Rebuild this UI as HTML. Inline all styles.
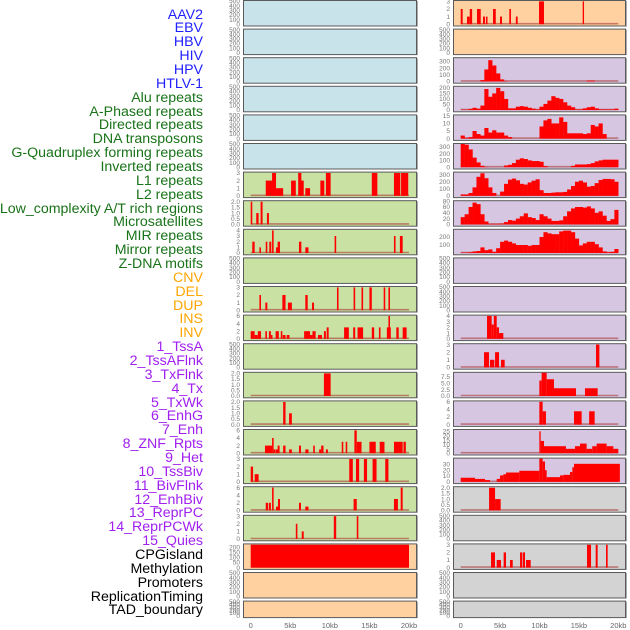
<!DOCTYPE html>
<html><head><meta charset="utf-8">
<style>
html,body{margin:0;padding:0;background:#fff;}
#wrap{position:relative;width:630px;height:630px;overflow:hidden;font-family:"Liberation Sans",sans-serif;}
.lbl{position:absolute;right:427px;font-size:14.2px;line-height:14px;white-space:nowrap;}
</style></head>
<body>
<div id="wrap">
<svg id="chart" width="630" height="630" style="position:absolute;left:0;top:0"></svg>
</div>
<script>
// ---- labels ----
const labelNames = ["AAV2","EBV","HBV","HIV","HPV","HTLV-1","Alu repeats","A-Phased repeats","Directed repeats","DNA transposons","G-Quadruplex forming repeats","Inverted repeats","L1 repeats","L2 repeats","Low_complexity A/T rich regions","Microsatellites","MIR repeats","Mirror repeats","Z-DNA motifs","CNV","DEL","DUP","INS","INV","1_TssA","2_TssAFlnk","3_TxFlnk","4_Tx","5_TxWk","6_EnhG","7_Enh","8_ZNF_Rpts","9_Het","10_TssBiv","11_BivFlnk","12_EnhBiv","13_ReprPC","14_ReprPCWk","15_Quies","CPGisland","Methylation","Promoters","ReplicationTiming","TAD_boundary"];
const labelColors = ["#1f1fff","#1f1fff","#1f1fff","#1f1fff","#1f1fff","#1f1fff","#197319","#197319","#197319","#197319","#197319","#197319","#197319","#197319","#197319","#197319","#197319","#197319","#197319","#ffa500","#ffa500","#ffa500","#ffa500","#ffa500","#a020f0","#a020f0","#a020f0","#a020f0","#a020f0","#a020f0","#a020f0","#a020f0","#a020f0","#a020f0","#a020f0","#a020f0","#a020f0","#a020f0","#a020f0","#000","#000","#000","#000","#000"];

// ---- x axis ----
const xTickValues = [0,5000,10000,15000,20000];
const xTickLabels = ["0","5kb","10kb","15kb","20kb"];

// ---- ticks ----
const ticksEmpty = [0,100,200,300,400,500];
const ticks3 = [0,1,2,3];
const ticks2f = [0,0.5,1,1.5,2];
const ticks4 = [0,1,2,3,4];
const ticks6 = [0,2,4,6];

// ---- left column segment data [startKb,endKb,value] ----
const leftL1 = [[1.9,2.9,2],[2.7,3.2,3],[3.2,4.1,1],[5.1,5.7,2],[6.0,6.4,3],[6.2,6.7,2],[6.9,7.5,1],[8.8,9.3,2],[9.5,10.1,3],[15.3,16.0,3],[18.1,18.9,3],[19.0,19.9,3]];
const leftLowComplexity = [[0,0.2,2],[0.7,1.0,1],[1.25,1.5,2],[2.05,2.3,1]];
const leftMIR = [[0.2,0.5,2],[1.1,1.3,1],[1.9,2.1,2],[2.35,2.6,2],[2.7,2.9,4],[3.2,3.5,1],[3.4,3.7,2],[6.1,6.4,2],[6.9,7.3,1],[10.6,10.8,3],[18.1,18.3,3],[18.85,19.2,3]];
const leftDEL = [[1.1,1.3,2],[1.85,2.1,1],[4.0,4.4,2],[4.7,5.2,1],[6.9,7.2,2],[7.75,8.0,1],[10.9,11.1,3],[13.0,13.2,3],[14.0,14.2,3],[15.0,15.3,3],[16.8,17.0,3],[17.4,17.6,3]];
const leftINS = [[0,0.5,2],[0.5,0.9,1],[0.9,1.3,2],[1.85,2.05,2],[2.3,2.55,2],[2.55,2.75,1],[3.15,3.55,2],[3.8,4.0,2],[4.05,4.4,1],[4.55,4.9,1],[6.75,7.5,2],[7.5,7.8,1],[7.8,8.2,2],[8.5,9.0,1],[9.25,9.5,2],[9.6,9.85,3],[11.8,12.4,3],[12.95,13.2,3],[13.5,14.2,3],[15.3,15.6,3],[16.2,16.4,3],[17.2,17.7,3],[17.4,17.6,6],[18.4,18.7,3],[19.2,19.7,3]];
const leftTxFlnk = [[9.25,10.1,2]];
const leftTxWk = [[4.1,4.4,2],[4.85,5.2,1]];
const leftEnh = [[1.8,2.7,2],[2.7,2.9,4],[2.9,3.1,1],[3.15,3.6,1],[3.4,3.65,2],[4.1,4.4,2],[4.85,5.2,1],[6.1,6.35,2],[6.9,7.3,1],[7.9,8.1,2],[8.65,8.9,1],[8.9,9.2,2],[9.5,9.75,1],[11.5,11.7,3],[12.0,12.2,3],[13.1,13.4,6],[13.4,14.0,3],[15.0,15.6,3],[15.5,15.8,3],[16.3,16.9,3],[18.1,19.2,3],[19.3,19.6,3]];
const leftHet = [[0,0.3,2],[0.5,0.8,1],[0.7,1.0,1],[12.45,12.9,3],[13.3,13.7,3],[14.3,14.7,3],[15.4,15.9,3],[17.0,17.4,3]];
const leftBivFlnk = [[1.9,2.2,2],[2.3,2.55,2],[2.7,2.9,6],[3.2,3.45,1],[3.45,3.7,3],[6.1,6.35,2],[6.9,7.3,1],[13.0,13.4,3],[18.1,18.6,3],[18.95,19.2,6]];
const leftReprPC = [[5.7,5.9,2],[6.45,6.7,1],[10.5,10.8,3],[13.4,13.6,3]];
const leftCPG = [[0,20,225]];

// ---- right column segment data ----
const rightAAV2 = [[0,0.25,2],[0.8,1.15,1],[1.15,1.45,2],[2.07,2.54,2],[2.83,3.08,1],[3.2,3.4,1],[4.1,4.45,2],[4.99,5.24,1],[6.17,6.38,2],[7.0,7.23,1],[9.94,10.57,3],[15.48,15.65,3]];
const rightINS = [[3.34,3.93,4],[3.93,4.2,2.5],[4.2,4.57,4],[4.57,4.86,2],[4.86,5.41,1]];
const rightTssA = [[2.96,3.59,2],[3.72,4.27,1],[4.36,4.86,2],[5.12,5.58,1],[17.17,17.6,3]];
const rightTxFlnk = [[9.98,10.27,6],[10.27,10.91,9],[10.91,11.84,6.5],[11.84,14.63,3],[15.77,17.38,3]];
const rightTxWk = [[9.98,10.4,6],[10.4,10.82,3.5],[14.38,15.35,3.5],[16.3,17.0,3.5]];
const rightEnh = [[9.98,10.15,25],[10.15,10.57,14],[10.57,13.36,8],[13.36,14.5,5],[14.5,15.14,8],[15.14,15.98,11],[15.98,16.7,5],[16.7,17.25,8],[17.25,18.52,11],[18.52,19.37,8],[19.37,20.0,5]];
const rightHet = [[0,1.82,7],[1.82,3.09,5],[3.09,3.72,3],[4.57,4.99,5],[4.99,5.41,11],[5.41,5.75,13],[5.75,7.44,16],[7.44,9.98,19],[9.98,10.4,40],[10.4,10.7,35],[10.7,10.91,20],[10.91,12.6,8],[12.6,13.02,11],[13.02,13.87,12],[13.87,14.17,17],[14.17,14.38,25],[14.38,20.2,31]];
const rightBivFlnk = [[3.6,4.36,2],[4.36,5.07,1]];
const rightCPG = [[3.85,4.35,2],[4.57,5.11,1],[5.45,5.75,2],[6.26,6.6,1],[7.53,7.78,2],[7.86,8.16,2],[8.29,8.88,1],[16.03,16.54,3],[17.13,17.38,3],[18.44,18.65,3]];

// ---- right column histogram data (0.5kb bins) ----
const rightHPV = [0,0,0,0,0,20,180,320,240,120,30,5,0,0,0,0,0,0,0,0,0,0,0,0,0,0,0,0,0,0,0,0,12,12,0,0,0,0,0,0];
const rightAlu = [3,3,10,20,12,40,190,120,150,200,170,100,15,15,30,35,30,20,12,5,30,55,85,125,110,100,70,40,25,5,5,15,25,30,15,5,5,5,5,12];
const rightDirected = [2,0.5,1,5,3,2,7,4,5.5,4,4,2,1,0,0,0,0,0,0,0,8,12,13,10,10,14,11,3.5,3.5,3.5,3.5,3,3.5,9,8,10,3,0,0,0];
const rightGQuad = [340,330,260,140,70,20,3,0,0,0,0,25,35,60,110,130,120,100,90,90,80,15,0,0,0,0,0,0,20,40,40,40,45,60,85,100,110,110,110,110];
const rightL1 = [20,20,40,120,270,320,250,120,40,0,60,170,230,245,220,170,160,190,215,235,80,40,40,45,50,50,55,90,140,200,215,190,130,140,180,225,240,240,235,200];
const rightLowComplexity = [25,35,60,75,70,35,10,2,2,2,3,8,15,13,20,28,38,25,22,15,35,28,20,12,12,14,28,45,55,60,60,58,62,55,40,45,30,12,18,50];
const rightMIR = [5,5,10,20,25,70,35,45,15,60,140,155,140,120,100,100,100,90,100,100,200,260,245,235,235,270,280,280,260,180,95,120,140,140,110,70,20,10,15,50];

const BLUE="#c9e3eb", ORANGE="#ffd1a0", GREEN="#c9e1a3", LAV="#d6c6e1", GRAY="#d3d3d3";

const leftPanels = [
 [BLUE,ticksEmpty,500,null,"seg","aav2-ebv"],[BLUE,ticksEmpty,500,null,"seg","ebv-hbv"],[BLUE,ticksEmpty,500,null,"seg","hiv-hpv"],
 [BLUE,ticksEmpty,500,null,"seg","htlv-alu"],[BLUE,ticksEmpty,500,null,"seg","aphased-directed"],[BLUE,ticksEmpty,500,null,"seg","dna-gquad"],
 [GREEN,ticks3,3.05,leftL1,"seg","l1"],[GREEN,ticks2f,2.05,leftLowComplexity,"seg","low-complexity"],[GREEN,ticks4,4.1,leftMIR,"seg","mir"],
 [GREEN,ticksEmpty,500,null,"seg","zdna"],[GREEN,ticks3,3.05,leftDEL,"seg","del"],[GREEN,ticks6,6.1,leftINS,"seg","ins"],
 [GREEN,ticksEmpty,500,null,"seg","tssa"],[GREEN,ticks2f,2.05,leftTxFlnk,"seg","txflnk"],[GREEN,ticks2f,2.05,leftTxWk,"seg","txwk"],
 [GREEN,ticks6,6.1,leftEnh,"seg","enh"],[GREEN,ticks3,3.05,leftHet,"seg","het"],[GREEN,ticks6,6.1,leftBivFlnk,"seg","bivflnk"],
 [GREEN,ticks3,3.05,leftReprPC,"seg","reprpc"],[ORANGE,[0,50,100,150,200],228,leftCPG,"seg","cpgisland"],
 [ORANGE,ticksEmpty,500,null,"seg","promoters"],[ORANGE,ticksEmpty,500,null,"seg","tad"]
];
const rightPanels = [
 [ORANGE,ticks3,3.05,rightAAV2,"seg","aav2"],[ORANGE,ticksEmpty,500,null,"seg","ebv-hbv"],[LAV,[0,100,200,300],350,rightHPV,"hist","hpv"],
 [LAV,[0,50,100,150,200],210,rightAlu,"hist","alu"],[LAV,[0,5,10,15],15.3,rightDirected,"hist","directed"],[LAV,[0,100,200,300],340,rightGQuad,"hist","gquad"],
 [LAV,[0,100,200,300],330,rightL1,"hist","l1"],[LAV,[0,20,40,60,80],80,rightLowComplexity,"hist","low-complexity"],[LAV,[100,200],290,rightMIR,"hist","mir"],
 [LAV,ticksEmpty,500,null,"seg","zdna"],[LAV,ticksEmpty,500,null,"seg","del"],[LAV,ticks4,4.05,rightINS,"seg","ins"],
 [LAV,ticks3,3.05,rightTssA,"seg","tssa"],[LAV,[0,2.5,5,7.5],9,rightTxFlnk,"seg","txflnk"],[LAV,ticks6,6.1,rightTxWk,"seg","txwk"],
 [LAV,[0,5,10,15,20,25],26.5,rightEnh,"seg","enh"],[LAV,[0,10,20,30],40,rightHet,"seg","het"],[GRAY,ticks2f,2.05,rightBivFlnk,"seg","bivflnk"],
 [GRAY,ticksEmpty,500,null,"seg","reprpc"],[GRAY,ticks3,3.05,rightCPG,"seg","cpgisland"],
 [GRAY,ticksEmpty,500,null,"seg","promoters"],[GRAY,ticksEmpty,500,null,"seg","tad"]
];

const svg = document.getElementById('chart');
const NS = "http://www.w3.org/2000/svg";
function mk(tag, attrs){const e=document.createElementNS(NS,tag);for(const k in attrs)e.setAttribute(k,attrs[k]);svg.appendChild(e);return e;}

const wrap = document.getElementById('wrap');
labelNames.forEach((t,i)=>{
  const d=document.createElement('div');
  d.className='lbl';
  d.style.top=(15+i*13.86-7.5)+'px';
  d.style.color=labelColors[i];
  d.textContent=t;
  
  
  wrap.appendChild(d);
});

function panelTop(i){return i*28.6;}
function panelH(i){return i===21?16.5:25.5;}

function drawColumn(panels, x0, x1, kb0px, kb20px, side){
  const xs = kb => kb0px + kb*(kb20px-kb0px)/20;
  panels.forEach((p,i)=>{
    const [bg,ticks,ymax,data,type,name]=p;
    const top=panelTop(i), h=panelH(i);
    const yb=top+h-1.3, yt=top+1;
    const ys = v => yb - v*(yb-yt)/ymax;
    const r=mk('rect',{x:x0+0.5,y:top+0.5,width:x1-x0,height:h,fill:bg,stroke:'#5a5a5a','stroke-width':1});
    
    
    const sh=mk('line',{x1:x1+1.5,y1:top+1,x2:x1+1.5,y2:top+h+1,stroke:'#aaa','stroke-width':1});
    
    
    ticks.forEach(t=>{
      const tx=mk('text',{x:x0-3,y:ys(t)+2.2,'font-size':6.5,'text-anchor':'end',fill:'#777','font-family':'Liberation Sans, sans-serif'});
      tx.textContent=String(ticks===ticks2f?t.toFixed(1):(ticks[1]===2.5?t.toFixed(1):t));
      
      
    });
    if(!data) return;
    const bl=mk('line',{x1:xs(0),y1:yb-0.5,x2:xs(20),y2:yb-0.5,stroke:'rgba(170,60,60,0.6)','stroke-width':1.6});
    
    
    if(type==='hist'){
      data.forEach((v,j)=>{
        if(v<=0) return;
        const b=mk('rect',{x:xs(j*0.5),y:ys(v),width:xs(0.5)-xs(0)+0.2,height:yb-ys(v),fill:'#ff0000'});
        
        
      });
    } else {
      data.forEach(s=>{
        const b=mk('rect',{x:xs(s[0]),y:ys(s[2]),width:Math.max(1.2,xs(s[1])-xs(s[0])),height:yb-ys(s[2]),fill:'#ff0000'});
        
        
      });
    }
  });
  xTickValues.forEach((v,k)=>{
    const t=mk('text',{x:xs(v/1000),y:628,'font-size':7.5,'text-anchor':'middle',fill:'#666','font-family':'Liberation Sans, sans-serif'});
    t.textContent=xTickLabels[k];
    
    
  });
}
drawColumn(leftPanels,243,416,250.7,409,'left');
drawColumn(rightPanels,453,625,460.7,618.3,'right');
</script>
</body></html>
